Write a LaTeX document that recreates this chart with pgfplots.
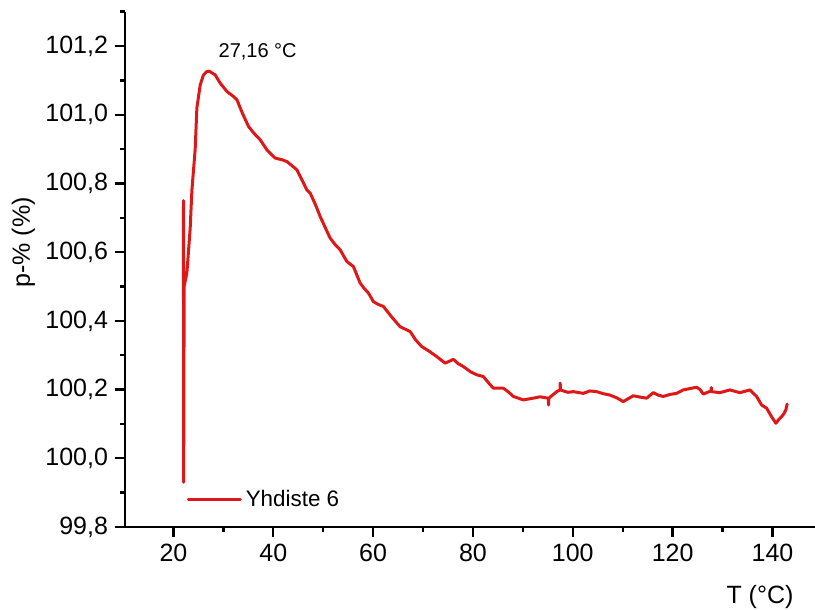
\documentclass[border=0pt]{standalone}
\usepackage{fontspec}
\setmainfont{Liberation Sans}
\usepackage{pgfplots}
\pgfplotsset{compat=1.18}
\definecolor{curvered}{RGB}{222,24,24}
\begin{document}
\begin{tikzpicture}
\begin{axis}[
  scale only axis,
  width=348.7pt, height=257.65pt,
  xmin=10.3, xmax=150, ymin=99.8, ymax=101.3,
  axis x line*=bottom, axis y line*=left,
  axis line style={-, line width=1.2pt, black},
  every tick/.style={black, line width=1.2pt},
  tick align=outside,
  major tick length=5pt, minor tick length=2.5pt,
  xtick={20,40,60,80,100,120,140},
  minor xtick={30,50,70,90,110,130},
  ytick={99.8,100,100.2,100.4,100.6,100.8,101,101.2},
  minor ytick={99.9,100.1,100.3,100.5,100.7,100.9,101.1,101.3},
  /pgf/number format/assume math mode=true,
  tick label style={font=\fontsize{12.5}{15}\selectfont},
  yticklabel style={/pgf/number format/.cd, fixed, fixed zerofill, precision=1, use comma, 1000 sep={}},
  xticklabel style={/pgf/number format/.cd, fixed, precision=0},
  xlabel={T (°C)},
  xlabel style={at={(axis description cs:0.9105,-0.136)}, anchor=center, font=\fontsize{12.5}{15}\selectfont},
  ylabel={p-\% (\%)},
  ylabel style={at={(axis description cs:-0.1455,0.552)}, anchor=center, rotate=0, font=\fontsize{12.5}{15}\selectfont},
  legend style={draw=none, fill=none, at={(axis cs:22.6,99.879)}, anchor=west, inner sep=0pt,
    font=\fontsize{11.2}{13}\selectfont},
  legend cell align=left,
  legend image code/.code={\draw[#1] (0pt,0pt) -- (26pt,0pt);},
]
\addplot[curvered, line width=1.5pt, line join=round, line cap=round] coordinates {
(22.00,100.46) (22.02,100.75) (22.05,99.93) (22.15,100.50) (22.70,100.54)
(23.36,100.67) (23.70,100.78) (24.36,100.90) (24.70,101.02) (25.37,101.087)
(26.00,101.115) (26.60,101.125) (27.16,101.127) (28.37,101.116) (29.37,101.092)
(30.71,101.068) (32.03,101.053) (32.71,101.044) (33.80,101.005) (35.04,100.966)
(36.20,100.945) (37.38,100.927) (38.72,100.898) (40.38,100.874) (41.72,100.869)
(42.72,100.864) (44.72,100.840) (45.70,100.812) (46.73,100.781) (47.39,100.772)
(48.40,100.740) (49.39,100.704) (50.40,100.672) (51.39,100.641) (52.40,100.622)
(53.39,100.607) (54.73,100.573) (56.06,100.558) (57.40,100.510) (58.20,100.495)
(59.06,100.481) (60.06,100.456) (61.00,100.448) (62.06,100.442) (63.80,100.410)
(65.41,100.383) (67.41,100.369) (68.50,100.345) (69.75,100.325) (71.20,100.312)
(72.75,100.296) (74.41,100.277) (75.20,100.282) (76.08,100.288) (77.00,100.276)
(78.08,100.267) (79.50,100.252) (80.76,100.243) (82.08,100.238) (83.10,100.220)
(84.08,100.204) (86.09,100.204) (87.20,100.192) (88.09,100.180) (90.09,100.170)
(92.09,100.175) (93.43,100.179) (95.10,100.175) (95.15,100.155) (95.20,100.175)
(96.78,100.194) (97.44,100.199) (97.48,100.219) (97.52,100.199) (99.00,100.192)
(100.10,100.194) (102.10,100.189) (103.40,100.196) (104.78,100.194) (106.10,100.188)
(107.45,100.184) (108.80,100.176) (110.11,100.165) (112.11,100.182) (113.50,100.178)
(114.79,100.175) (116.12,100.191) (117.10,100.184) (118.12,100.180) (119.50,100.186)
(120.80,100.189) (122.12,100.199) (123.50,100.203) (124.80,100.207) (125.50,100.200)
(126.13,100.187) (127.70,100.196) (127.74,100.206) (127.78,100.194) (129.47,100.191)
(131.47,100.199) (133.47,100.191) (135.48,100.199) (136.82,100.180) (137.82,100.155)
(138.82,100.146) (139.82,100.121) (140.68,100.102) (141.20,100.112) (141.82,100.121)
(142.30,100.130) (142.68,100.141) (142.94,100.158)
};
\addlegendentry{Yhdiste 6}
\node[font=\fontsize{10}{12}\selectfont, anchor=center] at (axis cs:36.88,101.182) {27,16 °C};
\end{axis}
\pgfresetboundingbox
\path[use as bounding box] (-62.5pt,-41.5pt) rectangle (345pt,263.5pt);
\end{tikzpicture}
\end{document}
